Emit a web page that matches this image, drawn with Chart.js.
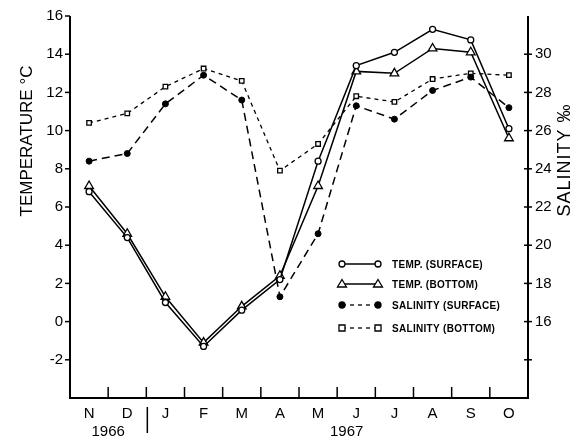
<!DOCTYPE html>
<html>
<head>
<meta charset="utf-8">
<script src="https://cdn.jsdelivr.net/npm/chart.js@4"></script>
<style>
  html, body { margin: 0; padding: 0; background: #fff; }
  #wrap { width: 577px; height: 441px; }
</style>
</head>
<body>
<div id="wrap"><canvas id="chart" width="577" height="441"></canvas></div>
<script>
// Months Nov 1966 - Oct 1967
var months = ['N', 'D', 'J', 'F', 'M', 'A', 'M', 'J', 'J', 'A', 'S', 'O'];
var tempSurface = [6.8, 4.4, 1.0, -1.3, 0.6, 2.2, 8.4, 13.4, 14.1, 15.3, 14.75, 10.1];
var tempBottom = [7.1, 4.6, 1.3, -1.1, 0.8, 2.4, 7.1, 13.1, 13.0, 14.3, 14.1, 9.6];
var salSurface = [24.4, 24.8, 27.4, 28.9, 27.6, 17.3, 20.6, 27.3, 26.6, 28.1, 28.8, 27.2];
var salBottom = [26.4, 26.9, 28.3, 29.25, 28.6, 23.9, 25.3, 27.8, 27.5, 28.7, 29.0, 28.9];
var tempTicks = [-2, 0, 2, 4, 6, 8, 10, 12, 14, 16];
var salTicks = [16, 18, 20, 22, 24, 26, 28, 30];
var years = [{ text: '1966', at: 0.5 }, { text: '1967', at: 6.75 }];

var FONT = '"Liberation Sans", Arial, sans-serif';

// legend rows: label, dash, marker
var legendRows = [
    { label: 'TEMP. (SURFACE)', dash: [], marker: 'circle' },
    { label: 'TEMP. (BOTTOM)', dash: [], marker: 'triangle' },
    { label: 'SALINITY (SURFACE)', dash: [4, 4], marker: 'dot' },
    { label: 'SALINITY (BOTTOM)', dash: [4, 4], marker: 'square' }
];

function drawMarker(ctx, type, x, y) {
    ctx.save();
    ctx.setLineDash([]);
    ctx.lineWidth = 1.3;
    ctx.strokeStyle = '#000';
    ctx.fillStyle = '#fff';
    ctx.beginPath();
    if (type === 'circle') {
        ctx.arc(x, y, 3, 0, Math.PI * 2);
    } else if (type === 'dot') {
        ctx.fillStyle = '#000';
        ctx.arc(x, y, 3, 0, Math.PI * 2);
    } else if (type === 'triangle') {
        ctx.moveTo(x, y - 4.5);
        ctx.lineTo(x + 4.5, y + 3);
        ctx.lineTo(x - 4.5, y + 3);
        ctx.closePath();
    } else {
        ctx.rect(x - 3, y - 3, 6, 6);
    }
    ctx.fill();
    ctx.stroke();
    ctx.restore();
}

// axes, ticks, titles, years and legend drawn by hand
var decorPlugin = {
    id: 'decor',
    afterDraw: function (chart) {
        var ctx = chart.ctx;
        var area = chart.chartArea;
        var xs = chart.scales.x, yl = chart.scales.y, yr = chart.scales.y2;
        ctx.save();
        ctx.strokeStyle = '#000';
        ctx.fillStyle = '#000';

        // axis lines (no top border)
        ctx.lineWidth = 2;
        ctx.beginPath();
        ctx.moveTo(area.left, area.top);
        ctx.lineTo(area.left, area.bottom);
        ctx.lineTo(area.right, area.bottom);
        ctx.lineTo(area.right, area.top);
        ctx.stroke();

        ctx.lineWidth = 1.5;
        // left ticks, outward
        tempTicks.forEach(function (v) {
            var y = yl.getPixelForValue(v);
            ctx.beginPath();
            ctx.moveTo(area.left - 5, y);
            ctx.lineTo(area.left, y);
            ctx.stroke();
        });
        // right ticks, crossing
        salTicks.concat([14]).forEach(function (v) {
            var y = yr.getPixelForValue(v);
            ctx.beginPath();
            ctx.moveTo(area.right - 4, y);
            ctx.lineTo(area.right + 4, y);
            ctx.stroke();
        });
        // bottom ticks, inward between months
        for (var i = 0; i < months.length - 1; i++) {
            var x = xs.getPixelForValue(i + 0.5);
            ctx.beginPath();
            ctx.moveTo(x, area.bottom);
            ctx.lineTo(x, area.bottom - 11);
            ctx.stroke();
        }

        // years and separator
        ctx.font = '15px ' + FONT;
        ctx.textAlign = 'center';
        ctx.textBaseline = 'middle';
        years.forEach(function (yr0) {
            ctx.fillText(yr0.text, xs.getPixelForValue(yr0.at), 432);
        });
        var sx = xs.getPixelForValue(1.5) + 1;
        ctx.beginPath();
        ctx.moveTo(sx, 407);
        ctx.lineTo(sx, 433);
        ctx.stroke();

        // axis titles
        ctx.font = '17px ' + FONT;
        ctx.save();
        ctx.translate(27, 141);
        ctx.rotate(-Math.PI / 2);
        ctx.fillText('TEMPERATURE °C', 0, 0);
        ctx.restore();
        ctx.font = '18px ' + FONT;
        ctx.save();
        ctx.translate(565, 160);
        ctx.rotate(-Math.PI / 2);
        ctx.letterSpacing = '1px';
        ctx.fillText('SALINITY ‰', 0, 0);
        ctx.restore();

        // legend
        ctx.font = 'bold 10px ' + FONT;
        ctx.textAlign = 'left';
        var rowY = [264, 284, 305, 328];
        legendRows.forEach(function (row, k) {
            var y = rowY[k];
            ctx.save();
            ctx.lineWidth = 1.3;
            ctx.setLineDash(row.dash);
            ctx.beginPath();
            ctx.moveTo(342, y);
            ctx.lineTo(378, y);
            ctx.stroke();
            ctx.restore();
            drawMarker(ctx, row.marker, 342, y);
            drawMarker(ctx, row.marker, 378, y);
            ctx.save();
            ctx.letterSpacing = '0.3px';
            ctx.fillText(row.label, 392, y + 1);
            ctx.restore();
        });
        ctx.restore();
    }
};

var ctx = document.getElementById('chart').getContext('2d');
new Chart(ctx, {
    type: 'line',
    data: {
        labels: months,
        datasets: [
            {
                label: 'TEMP. (SURFACE)', data: tempSurface, yAxisID: 'y',
                borderColor: '#000', borderWidth: 1.5,
                pointStyle: 'circle', pointRadius: 3, pointBackgroundColor: '#fff',
                pointBorderColor: '#000', pointBorderWidth: 1.3
            },
            {
                label: 'TEMP. (BOTTOM)', data: tempBottom, yAxisID: 'y',
                borderColor: '#000', borderWidth: 1.5,
                pointStyle: 'triangle', pointRadius: 5, pointBackgroundColor: '#fff',
                pointBorderColor: '#000', pointBorderWidth: 1.3
            },
            {
                label: 'SALINITY (SURFACE)', data: salSurface, yAxisID: 'y2',
                borderColor: '#000', borderWidth: 1.5, borderDash: [8, 5],
                pointStyle: 'circle', pointRadius: 3, pointBackgroundColor: '#000',
                pointBorderColor: '#000', pointBorderWidth: 1
            },
            {
                label: 'SALINITY (BOTTOM)', data: salBottom, yAxisID: 'y2',
                borderColor: '#000', borderWidth: 1.3, borderDash: [4, 4],
                pointStyle: 'rect', pointRadius: 3.2, pointBackgroundColor: '#fff',
                pointBorderColor: '#000', pointBorderWidth: 1.3
            }
        ]
    },
    options: {
        responsive: false,
        animation: false,
        layout: { padding: { top: 15, left: 0, right: 0, bottom: 0 } },
        plugins: {
            legend: { display: false },
            tooltip: { enabled: false }
        },
        scales: {
            x: {
                offset: true,
                grid: { display: false, drawTicks: false },
                border: { display: false },
                ticks: { color: '#000', font: { family: FONT, size: 15 }, padding: 7, maxRotation: 0, autoSkip: false },
                afterFit: function (s) { s.height = 43; }
            },
            y: {
                position: 'left',
                min: -4, max: 16,
                grid: { display: false, drawTicks: false },
                border: { display: false },
                ticks: {
                    stepSize: 2, color: '#000', padding: 7,
                    font: { family: FONT, size: 15 },
                    callback: function (v) { return v < -2 ? '' : v; }
                },
                afterFit: function (s) { s.width = 70; }
            },
            y2: {
                position: 'right',
                min: 12, max: 32,
                grid: { display: false, drawTicks: false },
                border: { display: false },
                ticks: {
                    stepSize: 2, color: '#000', padding: 7,
                    font: { family: FONT, size: 15 },
                    callback: function (v) { return (v >= 16 && v <= 30) ? v : ''; }
                },
                afterFit: function (s) { s.width = 49; }
            }
        }
    },
    plugins: [decorPlugin]
});
</script>
</body>
</html>
